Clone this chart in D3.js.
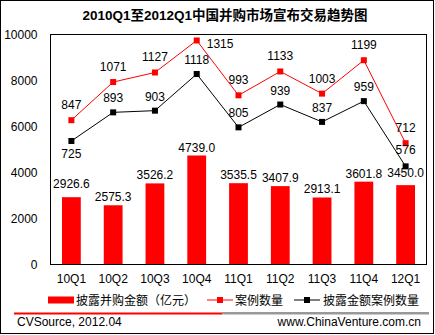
<!DOCTYPE html>
<html><head><meta charset="utf-8">
<script src="https://cdn.jsdelivr.net/npm/d3@7"></script>
<style>
body{margin:0;background:#fff}
svg{display:block}
text{font-family:Arial,"Liberation Sans","Noto Sans CJK SC",sans-serif;fill:#000}
</style>
</head><body>
<svg id="c" width="435" height="335"></svg>
<script>
const title = "2010Q1至2012Q1中国并购市场宣布交易趋势图";
const categories = ["10Q1","10Q2","10Q3","10Q4","11Q1","11Q2","11Q3","11Q4","12Q1"];
const amountValues = [2926.6,2575.3,3526.2,4739.0,3535.5,3407.9,2913.1,3601.8,3450.0];
const caseCounts = [847,1071,1127,1315,993,1133,1003,1199,712];
const disclosedCounts = [725,893,903,1118,805,939,837,959,576];
const yTicks = [0,2000,4000,6000,8000,10000];
const legendLabels = ["披露并购金额（亿元）","案例数量","披露金额案例数量"];
const footerLeft = "CVSource, 2012.04";
const footerRight = "www.ChinaVenture.com.cn";

const svg = d3.select("#c");
const L = 50.5, R = 426.5, T = 34.5, B = 264.5;

const x = d3.scaleBand().domain(categories).range([L, R]).paddingInner(0.55).paddingOuter(0.275);
const y = d3.scaleLinear().domain([0, 10000]).range([B, T]);
const y2 = d3.scaleLinear().domain([0, 1350]).range([B, T]);
const cx = c => x(c) + x.bandwidth() / 2;

// outer border
svg.append("rect").attr("x",0.5).attr("y",0.5).attr("width",433).attr("height",333)
  .attr("fill","none").attr("stroke","#000");

// title
svg.append("text").attr("x",225).attr("y",20).attr("text-anchor","middle")
  .style("font-size","13.5px").style("font-weight","bold").text(title);

// bars
svg.append("g").selectAll("rect").data(amountValues).join("rect")
  .attr("x",(d,i)=>x(categories[i])).attr("width",x.bandwidth())
  .attr("y",d=>y(d)).attr("height",d=>B-y(d)).attr("fill","#FF0000");

svg.append("g").selectAll("text").data(amountValues).join("text")
  .attr("x",(d,i)=>cx(categories[i])).attr("y",(d,i)=>y(d)-(i===0?9:(i===8?8:4)))
  .attr("text-anchor","middle").style("font-size","12px").text(d=>d.toFixed(1));

// frame
svg.append("rect").attr("x",L).attr("y",T).attr("width",R-L).attr("height",B-T)
  .attr("fill","none").attr("stroke","#000");

// y axis
const yAxis = d3.axisLeft(y).tickValues(yTicks).tickSize(0).tickPadding(13).tickFormat(d3.format("d"));
const ya = svg.append("g").attr("transform",`translate(${L},0)`).call(yAxis);
ya.select(".domain").remove();
ya.selectAll("text").style("font-size","12px").style("font-family",null).attr("fill","#000");

// x axis
const xAxis = d3.axisBottom(x).tickSize(0).tickPadding(10);
const xa = svg.append("g").attr("transform",`translate(0,${B})`).call(xAxis);
xa.select(".domain").remove();
xa.selectAll("text").style("font-size","12px").style("font-family",null).attr("fill","#000");

// lines
function drawSeries(vals, color, labelFn){
  const line = d3.line().x((d,i)=>cx(categories[i])).y(d=>y2(d));
  svg.append("path").datum(vals).attr("d",line).attr("fill","none").attr("stroke",color).attr("stroke-width",1);
  svg.append("g").selectAll("rect").data(vals).join("rect")
    .attr("x",(d,i)=>cx(categories[i])-3).attr("y",d=>y2(d)-3)
    .attr("width",6).attr("height",6).attr("fill",color);
  const g = svg.append("g").selectAll("text").data(vals).join("text")
    .style("font-size","12px").text(d=>d);
  g.each(function(d,i){ labelFn(d3.select(this), d, i); });
}
drawSeries(caseCounts, "#FF0000", (t,d,i)=>{
  if(i===3){ t.attr("x",cx(categories[i])+10).attr("y",y2(d)+8).attr("text-anchor","start"); }
  else { t.attr("x",cx(categories[i])).attr("y",y2(d)-11).attr("text-anchor","middle"); }
});
drawSeries(disclosedCounts, "#000000", (t,d,i)=>{
  t.attr("text-anchor","middle").attr("x",cx(categories[i]));
  if(i===0) t.attr("y",y2(d)+17);
  else if(i===8) t.attr("y",y2(d)-12);
  else t.attr("y",y2(d)-10);
});

// legend
const ly = 300;
const lg = svg.append("g");
lg.append("rect").attr("x",48).attr("y",ly-3.5).attr("width",26).attr("height",7).attr("fill","#FF0000");
lg.append("text").attr("x",76).attr("y",ly+4.5).style("font-size","12px").text(legendLabels[0]);
lg.append("line").attr("x1",207).attr("x2",233).attr("y1",ly).attr("y2",ly).attr("stroke","#FF0000");
lg.append("rect").attr("x",217).attr("y",ly-3).attr("width",6).attr("height",6).attr("fill","#FF0000");
lg.append("text").attr("x",235).attr("y",ly+4.5).style("font-size","12px").text(legendLabels[1]);
lg.append("line").attr("x1",294).attr("x2",320).attr("y1",ly).attr("y2",ly).attr("stroke","#000");
lg.append("rect").attr("x",304).attr("y",ly-3).attr("width",6).attr("height",6).attr("fill","#000");
lg.append("text").attr("x",323).attr("y",ly+4.5).style("font-size","12px").text(legendLabels[2]);

// footer
svg.append("line").attr("x1",14).attr("x2",222).attr("y1",313.5).attr("y2",313.5).attr("stroke","#FF0000").attr("stroke-width",2);
svg.append("line").attr("x1",222).attr("x2",429).attr("y1",313).attr("y2",313).attr("stroke","#333").attr("stroke-width",1);
svg.append("line").attr("x1",222).attr("x2",429).attr("y1",314).attr("y2",314).attr("stroke","#999").attr("stroke-width",1);
svg.append("text").attr("x",17).attr("y",326).style("font-size","12px").text(footerLeft);
svg.append("text").attr("x",421).attr("y",326).attr("text-anchor","end").style("font-size","12px").text(footerRight);
</script>
</body></html>
